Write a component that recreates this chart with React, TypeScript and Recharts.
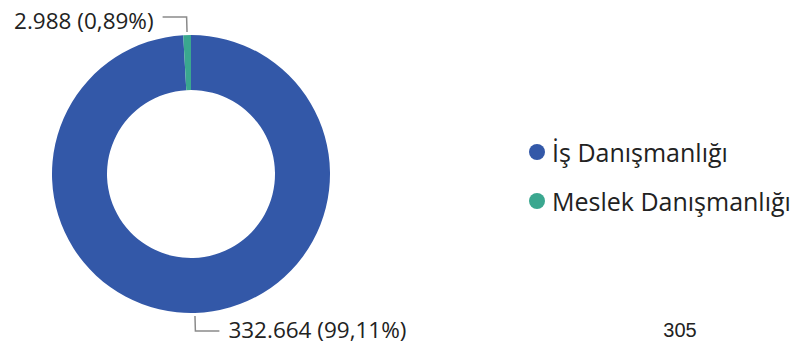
import React from "react";
import { PieChart, Pie, Cell, Legend, Customized } from "recharts";

const categories = ["İş Danışmanlığı", "Meslek Danışmanlığı"];
const values = [332664, 2988];
const colors = ["#3358A8", "#3AA78F"];
const footerText = "305";

const data = categories.map((name, i) => ({ name, value: values[i] }));
const total = values.reduce((a, b) => a + b, 0);

const FONT = "'Open Sans', 'Noto Sans', sans-serif";
const RADIAN = Math.PI / 180;

const fmtNum = (v: number) => String(v).replace(/\B(?=(\d{3})+(?!\d))/g, ".");
const fmtPct = (v: number) => ((v / total) * 100).toFixed(2).replace(".", ",") + "%";

const renderLabel = (props: any) => {
  const { cx, cy, midAngle, outerRadius, value } = props;
  const cos = Math.cos(-midAngle * RADIAN);
  const sin = Math.sin(-midAngle * RADIAN);
  const sx = cx + (outerRadius + 3) * cos;
  const sy = cy + (outerRadius + 3) * sin;
  const mx = cx + (outerRadius + 18) * cos;
  const my = cy + (outerRadius + 18) * sin;
  const dir = cos >= 0 ? 1 : -1;
  const ex = mx + dir * 24;
  const tx = ex + dir * 9;
  const ty = sin < 0 ? my + 3.5 : my - 1.5;
  return (
    <g>
      <path d={`M${sx},${sy}L${mx},${my}L${ex},${my}`} stroke="#8a8a8a" strokeWidth={1.5} fill="none" />
      <text
        x={tx}
        y={ty}
        textAnchor={dir > 0 ? "start" : "end"}
        dominantBaseline="central"
        fill="#222"
        fontFamily={FONT}
        fontSize={22.5}
      >
        {`${fmtNum(value)} (${fmtPct(value)})`}
      </text>
    </g>
  );
};

const renderLegend = () => (
  <div style={{ fontFamily: FONT, fontSize: 25, color: "#222" }}>
    {data.map((d, i) => (
      <div key={d.name} style={{ display: "flex", alignItems: "center", height: 49 }}>
        <span
          style={{
            display: "inline-block",
            width: 16,
            height: 16,
            borderRadius: "50%",
            background: colors[i],
            marginRight: 7,
            flex: "none",
          }}
        />
        <span style={{ whiteSpace: "nowrap" }}>{d.name}</span>
      </div>
    ))}
  </div>
);

export default function App() {
  return (
    <div style={{ position: "absolute", left: 0, top: 0, width: 812, height: 344, background: "#fff" }}>
      <PieChart width={812} height={344} margin={{ top: 0, right: 0, bottom: 0, left: 0 }}>
        <Pie
          data={data}
          dataKey="value"
          nameKey="name"
          cx={191}
          cy={174}
          innerRadius={84}
          outerRadius={139}
          startAngle={90}
          endAngle={-270}
          stroke="none"
          label={renderLabel}
          labelLine={false}
          isAnimationActive={false}
        >
          {data.map((d, i) => (
            <Cell key={d.name} fill={colors[i]} />
          ))}
        </Pie>
        <Legend
          content={renderLegend}
          layout="vertical"
          wrapperStyle={{ position: "absolute", left: 529, top: 127, width: 283 }}
        />
        <Customized
          component={() => (
            <text x={680} y={330} textAnchor="middle" dominantBaseline="central" fontFamily="'Liberation Sans', Arial, sans-serif" fontSize={20} fill="#222">
              {footerText}
            </text>
          )}
        />
      </PieChart>
    </div>
  );
}
